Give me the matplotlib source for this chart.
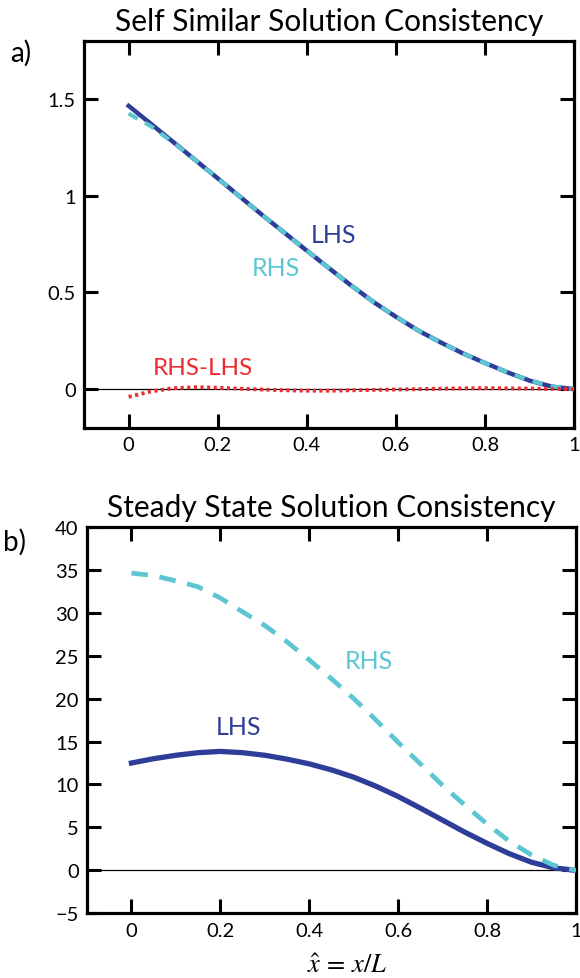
import matplotlib
matplotlib.use("Agg")
import matplotlib.pyplot as plt

plt.rcParams['font.family'] = ['Lato', 'DejaVu Sans']
plt.rcParams['mathtext.fontset'] = 'stix'

# ---- data ----
x_a = [0.0, 0.05, 0.1, 0.15, 0.2, 0.25, 0.3, 0.35, 0.4, 0.45, 0.5,
       0.55, 0.6, 0.65, 0.7, 0.75, 0.8, 0.85, 0.9, 0.95, 1.0]
lhs_a = [1.465, 1.372, 1.278, 1.184, 1.09, 0.995, 0.90, 0.808, 0.716, 0.625, 0.535,
         0.45, 0.374, 0.303, 0.242, 0.185, 0.135, 0.087, 0.044, 0.013, 0.0]
rhs_a = [1.425, 1.36, 1.275, 1.184, 1.09, 0.995, 0.90, 0.808, 0.716, 0.625, 0.535,
         0.45, 0.374, 0.303, 0.242, 0.185, 0.135, 0.087, 0.045, 0.014, 0.0]
diff_a = [-0.04, -0.012, 0.005, 0.01, 0.007, 0.002, -0.002, -0.006, -0.008, -0.008, -0.006,
          -0.004, -0.002, 0.0, 0.002, 0.004, 0.005, 0.004, 0.003, 0.001, 0.0]

x_b = [0.0, 0.05, 0.1, 0.15, 0.2, 0.25, 0.3, 0.35, 0.4, 0.45, 0.5,
       0.55, 0.6, 0.65, 0.7, 0.75, 0.8, 0.85, 0.9, 0.95, 1.0]
lhs_b = [12.5, 13.0, 13.4, 13.7, 13.85, 13.7, 13.4, 12.95, 12.4, 11.7, 10.85,
         9.8, 8.6, 7.25, 5.85, 4.45, 3.15, 1.95, 0.95, 0.3, 0.0]
rhs_b = [34.6, 34.3, 33.7, 33.0, 31.7, 30.1, 28.5, 26.6, 24.5, 22.3, 20.0,
         17.5, 14.9, 12.4, 9.9, 7.6, 5.4, 3.4, 1.8, 0.6, 0.0]

yt_a = [0, 0.5, 1, 1.5]
yt_a_lbl = ['0', '0.5', '1', '1.5']
yt_b = [-5, 0, 5, 10, 15, 20, 25, 30, 35, 40]
yt_b_lbl = ['\u22125', '0', '5', '10', '15', '20', '25', '30', '35', '40']
xt = [0, 0.2, 0.4, 0.6, 0.8, 1]
xt_lbl = ['0', '0.2', '0.4', '0.6', '0.8', '1']

DARK = '#2E3D97'
CYAN = '#5CC6D2'
RED = '#EE2B30'

fig = plt.figure(figsize=(5.8, 9.79), dpi=100)
ax1 = fig.add_axes([0.145, 0.562, 0.845, 0.395])
ax2 = fig.add_axes([0.150, 0.066, 0.843, 0.395])

for ax in (ax1, ax2):
    for s in ax.spines.values():
        s.set_linewidth(2.3)
    ax.tick_params(direction='in', length=10, width=2.2, top=True, right=True,
                   labelsize=14.5, pad=6)
    ax.set_xlim(-0.1, 1.0)
    ax.set_xticks(xt)
    ax.set_xticklabels(xt_lbl)
    ax.axhline(0, color='black', lw=0.9, zorder=1)

# panel a
ax1.plot(x_a, lhs_a, color=DARK, lw=3.2, zorder=3)
ax1.plot(x_a, rhs_a, color=CYAN, lw=3.0, dashes=(2.5, 2), zorder=4)
ax1.plot(x_a, diff_a, color=RED, lw=2.8, dashes=(0.8, 0.9), zorder=5)
ax1.set_ylim(-0.2, 1.8)
ax1.set_yticks(yt_a)
ax1.set_yticklabels(yt_a_lbl)
ax1.text(0.46, 0.80, 'LHS', color=DARK, fontsize=18, ha='center', va='center')
ax1.text(0.33, 0.63, 'RHS', color=CYAN, fontsize=18, ha='center', va='center')
ax1.text(0.166, 0.11, 'RHS-LHS', color=RED, fontsize=17.5, ha='center', va='center')
ax1.set_title('Self Similar Solution Consistency', fontsize=21.5, pad=8)
fig.text(0.018, 0.946, 'a)', fontsize=20, ha='left', va='center')

# panel b
ax2.plot(x_b, lhs_b, color=DARK, lw=3.8, zorder=3)
ax2.plot(x_b, rhs_b, color=CYAN, lw=3.4, dashes=(3.5, 2.5), zorder=4)
ax2.set_ylim(-5, 40)
ax2.set_yticks(yt_b)
ax2.set_yticklabels(yt_b_lbl)
ax2.text(0.535, 24.4, 'RHS', color=CYAN, fontsize=18, ha='center', va='center')
ax2.text(0.24, 16.7, 'LHS', color=DARK, fontsize=18, ha='center', va='center')
ax2.set_title('Steady State Solution Consistency', fontsize=21.5, pad=8)
ax2.set_xlabel(r'$\hat{x}\,=\,x/L$', fontsize=19)
ax2.xaxis.set_label_coords(0.532, -0.10)
fig.text(0.005, 0.446, 'b)', fontsize=20, ha='left', va='center')

fig.savefig('out.png', dpi=100)
